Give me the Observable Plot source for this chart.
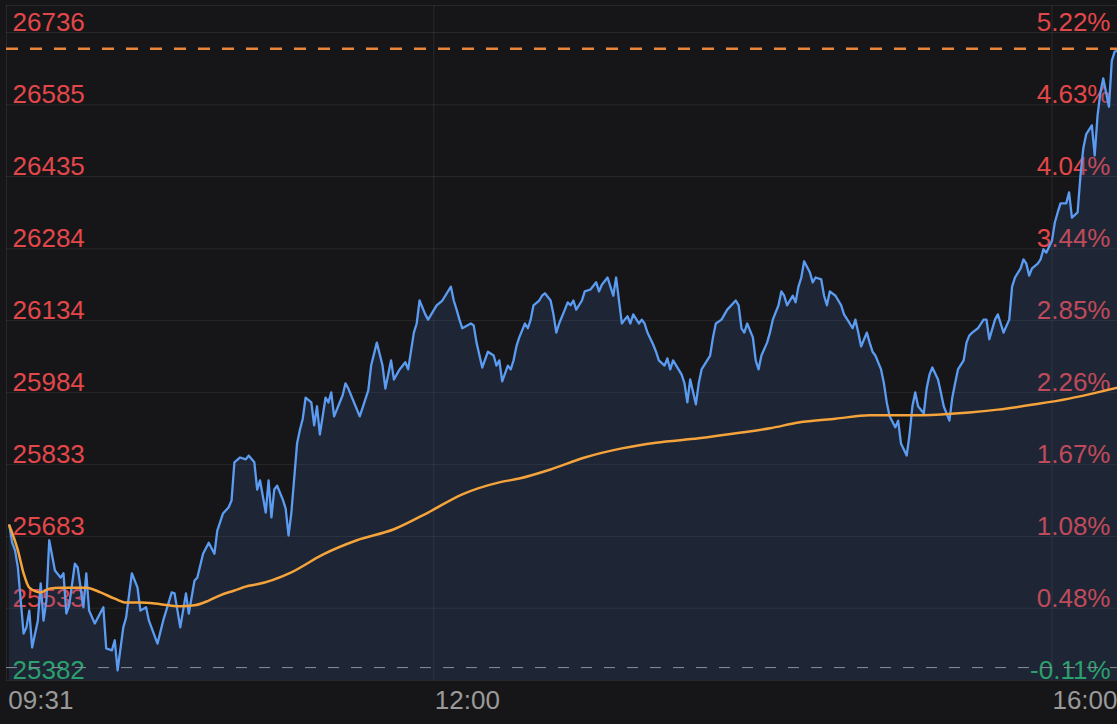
<!DOCTYPE html>
<html><head><meta charset="utf-8">
<script src="https://cdn.jsdelivr.net/npm/d3@7"></script>
<script src="https://cdn.jsdelivr.net/npm/@observablehq/plot@0.6"></script>
<style>html,body{margin:0;padding:0;background:#161618;overflow:hidden} #chart svg{display:block}</style>
</head><body><div id="chart"></div>
<script>
const priceTimes = ["09:31","09:32","09:33","09:34","09:36","09:37","09:38","09:39","09:41","09:42","09:43","09:44","09:45","09:47","09:49","09:50","09:51","09:52","09:54","09:55","09:57","09:58","09:59","10:01","10:04","10:05","10:07","10:08","10:09","10:11","10:12","10:14","10:16","10:17","10:19","10:20","10:23","10:25","10:28","10:29","10:31","10:33","10:34","10:36","10:37","10:39","10:41","10:43","10:44","10:46","10:48","10:49","10:50","10:52","10:54","10:55","10:57","10:58","10:59","11:01","11:02","11:03","11:04","11:05","11:07","11:08","11:09","11:10","11:12","11:13","11:14","11:15","11:17","11:18","11:19","11:20","11:22","11:23","11:24","11:25","11:28","11:29","11:30","11:32","11:34","11:37","11:38","11:40","11:42","11:43","11:45","11:46","11:48","11:50","11:51","11:53","11:54","11:55","11:57","11:58","12:01","12:03","12:06","12:07","12:08","12:09","12:10","12:13","12:14","12:15","12:17","12:19","12:21","12:22","12:23","12:24","12:26","12:27","12:28","12:29","12:30","12:32","12:33","12:34","12:35","12:37","12:38","12:39","12:41","12:42","12:43","12:44","12:46","12:47","12:48","12:49","12:50","12:52","12:53","12:55","12:57","12:58","12:59","13:01","13:02","13:03","13:04","13:06","13:07","13:08","13:09","13:10","13:12","13:13","13:14","13:15","13:17","13:18","13:19","13:21","13:22","13:23","13:24","13:27","13:28","13:29","13:30","13:32","13:33","13:34","13:37","13:38","13:39","13:41","13:43","13:46","13:47","13:48","13:49","13:50","13:52","13:53","13:54","13:55","13:57","13:58","13:59","14:01","14:02","14:03","14:04","14:06","14:07","14:08","14:09","14:10","14:12","14:13","14:14","14:16","14:17","14:18","14:19","14:21","14:23","14:24","14:26","14:27","14:28","14:29","14:30","14:32","14:33","14:34","14:35","14:37","14:38","14:39","14:40","14:42","14:43","14:44","14:46","14:47","14:48","14:49","14:50","14:52","14:53","14:54","14:55","14:57","14:58","14:59","15:01","15:02","15:03","15:04","15:06","15:07","15:08","15:09","15:11","15:13","15:14","15:15","15:17","15:18","15:19","15:20","15:22","15:23","15:24","15:26","15:27","15:28","15:29","15:30","15:32","15:33","15:34","15:35","15:37","15:38","15:39","15:40","15:42","15:43","15:44","15:46","15:47","15:48","15:49","15:51","15:52","15:53","15:54","15:55","15:57","15:58","15:59","16:00"];
const priceValues = [25706,25670,25654,25618,25480,25493,25528,25451,25507,25585,25507,25549,25675,25612,25597,25606,25522,25539,25626,25618,25535,25606,25528,25501,25535,25449,25445,25466,25403,25493,25514,25606,25576,25528,25535,25507,25459,25507,25566,25564,25493,25564,25522,25591,25597,25647,25670,25647,25695,25731,25744,25758,25838,25848,25844,25852,25838,25781,25800,25733,25800,25723,25781,25789,25760,25741,25685,25733,25877,25906,25929,25973,25963,25915,25955,25896,25973,25963,25984,25934,25978,26003,25992,25963,25934,25988,26040,26088,26040,25992,26051,26011,26032,26047,26032,26109,26128,26176,26147,26136,26166,26176,26205,26176,26157,26136,26118,26128,26124,26088,26036,26069,26061,26040,26051,26007,26040,26032,26051,26080,26099,26128,26118,26136,26166,26176,26186,26191,26176,26147,26109,26128,26157,26172,26166,26176,26157,26176,26195,26199,26214,26195,26209,26224,26205,26186,26224,26128,26136,26143,26128,26147,26128,26136,26128,26109,26084,26069,26051,26040,26055,26032,26051,26021,26003,25963,26011,25959,26003,26032,26061,26099,26128,26136,26157,26176,26166,26118,26109,26128,26099,26051,26032,26061,26088,26109,26136,26166,26195,26186,26166,26186,26172,26205,26224,26258,26235,26214,26224,26220,26186,26166,26195,26186,26166,26147,26128,26118,26136,26109,26080,26109,26088,26069,26061,26032,26003,25963,25934,25911,25925,25877,25852,25896,25955,25984,25955,25940,25992,26021,26036,26011,25984,25955,25925,25973,26003,26032,26051,26088,26103,26109,26118,26136,26136,26095,26136,26147,26128,26109,26136,26205,26224,26243,26262,26253,26228,26243,26253,26262,26283,26276,26301,26339,26360,26379,26379,26402,26349,26360,26437,26494,26523,26542,26479,26563,26611,26640,26581,26677,26696,26698];
const avgTimes = ["09:31","09:34","09:36","09:38","09:42","09:45","09:49","09:54","09:58","10:03","10:08","10:12","10:17","10:22","10:27","10:31","10:36","10:41","10:45","10:50","10:55","10:58","11:10","11:21","11:33","11:46","11:58","12:10","12:23","12:30","12:41","12:53","13:06","13:18","13:33","13:48","13:58","14:08","14:21","14:33","14:46","14:58","15:08","15:18","15:31","15:43","15:53","16:00"];
const avgValues = [25706,25654,25606,25576,25566,25574,25576,25576,25576,25566,25553,25545,25545,25543,25539,25537,25539,25549,25560,25570,25580,25583,25608,25645,25675,25698,25733,25771,25796,25804,25823,25848,25867,25879,25888,25900,25909,25921,25929,25936,25936,25938,25942,25948,25959,25971,25984,25994];
const yTickValues = [26736,26585,26435,26284,26134,25984,25833,25683,25533,25382];
const yTickPct = ["5.22%","4.63%","4.04%","3.44%","2.85%","2.26%","1.67%","1.08%","0.48%","-0.11%"];
const prevClose = 25409;
const refLevel = 26702;
const xTickLabels = ["09:31","12:00","16:00"];
const gridTimes = ["09:30","12:00","15:37"];
const sessionStart = "09:30", sessionEnd = "16:00";

const toMin = s => { const [h, m] = s.split(":").map(Number); return h * 60 + m; };
const t0 = toMin(sessionStart);
const rel = s => toMin(s) - t0;

const price = priceTimes.map((t, i) => ({t: rel(t), v: priceValues[i]}));
const avg = avgTimes.map((t, i) => ({t: rel(t), v: avgValues[i]}));
const yMin = d3.min(yTickValues), yMax = d3.max(yTickValues);
const yTop = yMax + (yMax - yMin) / (yTickValues.length - 1) * 0.375;
const yTicks = yTickValues.map((v, i) => ({v, pct: yTickPct[i]}));
const RED = "#e2474a", GREEN = "#27b25f";
const col = d => d.v >= prevClose ? RED : GREEN;

const chart = Plot.plot({
  width: 1117, height: 724,
  marginLeft: 6, marginRight: 0, marginTop: 5, marginBottom: 44,
  x: {domain: [0, rel(sessionEnd)], axis: null},
  y: {domain: [yMin, yTop], axis: null},
  style: {background: "#161618", fontFamily: "'Liberation Sans', Arial, sans-serif"},
  marks: [
    Plot.ruleY([...yTickValues, yTop], {stroke: "#ffffff", strokeOpacity: 0.08}),
    Plot.ruleX(gridTimes.map(rel), {stroke: "#ffffff", strokeOpacity: 0.08}),
    Plot.text(yTicks, {x: 0, y: "v", text: d => String(d.v), fill: col, textAnchor: "start", dx: 6, dy: -10, fontSize: 26}),
    Plot.text(yTicks, {x: rel(sessionEnd), y: "v", text: "pct", fill: col, textAnchor: "end", dx: -7, dy: -10, fontSize: 26}),
    Plot.areaY(price, {x: "t", y1: yMin, y2: "v", fill: "#3a5a9c", fillOpacity: 0.22}),
    Plot.ruleY([prevClose], {stroke: "#8c9099", strokeWidth: 1, strokeDasharray: "11,12"}),
    Plot.line(price, {x: "t", y: "v", stroke: "#5b9cf2", strokeWidth: 2.3, strokeLinejoin: "round"}),
    Plot.line(avg, {x: "t", y: "v", stroke: "#f5a33b", strokeWidth: 2.5, curve: "monotone-x"}),
    Plot.ruleY([refLevel], {stroke: "#e8853a", strokeWidth: 2.5, strokeDasharray: "12,12"}),
    Plot.text([xTickLabels[0]], {x: d => rel(d), y: yMin, text: d => d, fill: "#9a9a9a", fontSize: 26, textAnchor: "start", dx: -1, dy: 20}),
    Plot.text([xTickLabels[1]], {x: d => rel(d), y: yMin, text: d => d, fill: "#9a9a9a", fontSize: 26, textAnchor: "start", dx: 1, dy: 20}),
    Plot.text([xTickLabels[2]], {x: d => rel(d), y: yMin, text: d => d, fill: "#9a9a9a", fontSize: 26, textAnchor: "end", dx: 0, dy: 20})
  ]
});
document.getElementById("chart").appendChild(chart);
</script>
</body></html>
